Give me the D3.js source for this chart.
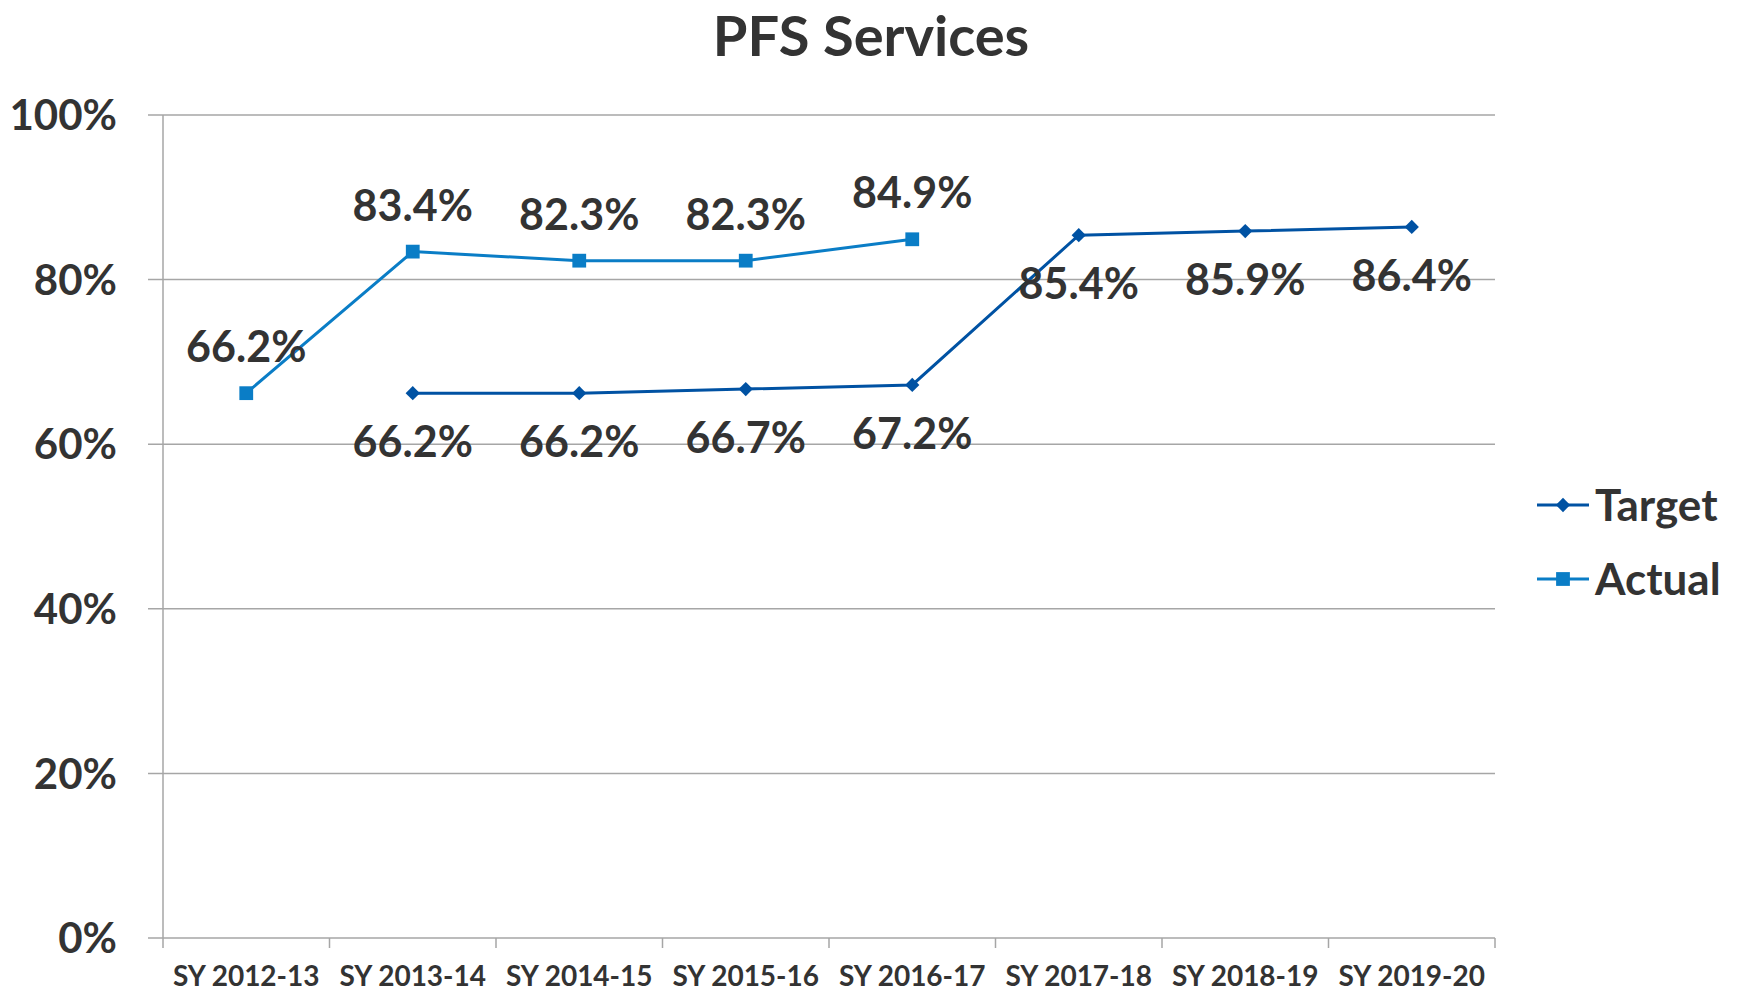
<!DOCTYPE html>
<html>
<head>
<meta charset="utf-8">
<script src="https://cdn.jsdelivr.net/npm/d3@7"></script>
<style>
  body { margin: 0; background: #fff; }
  svg { display: block; font-family: Lato, "Open Sans", sans-serif; font-weight: bold; }
</style>
</head>
<body>
<svg id="chart" width="1740" height="992"></svg>
<script>
// chart data
const categories = ["SY 2012-13", "SY 2013-14", "SY 2014-15", "SY 2015-16",
  "SY 2016-17", "SY 2017-18", "SY 2018-19", "SY 2019-20"];
const targetValues = [null, 66.2, 66.2, 66.7, 67.2, 85.4, 85.9, 86.4];
const actualValues = [66.2, 83.4, 82.3, 82.3, 84.9, null, null, null];
const yTicks = [0, 20, 40, 60, 80, 100];

const textColor = "#333";
const gridColor = "#a6a6a6";

const svg = d3.select("#chart");
const plot = { left: 163, right: 1495, top: 115, bottom: 938 };

const x = d3.scaleBand().domain(categories).range([plot.left, plot.right]).padding(0);
const y = d3.scaleLinear().domain([0, 100]).range([plot.bottom, plot.top]);
const cx = (c) => x(c) + x.bandwidth() / 2;

// title
svg.append("text")
  .attr("x", 871).attr("y", 56)
  .attr("text-anchor", "middle")
  .attr("font-size", 56)
  .attr("fill", textColor)
  .text("PFS Services");

// gridlines + y labels
const gy = svg.append("g");
gy.selectAll("line")
  .data(yTicks)
  .enter()
  .append("line")
  .attr("x1", plot.left - 15).attr("x2", plot.right)
  .attr("y1", (d) => y(d)).attr("y2", (d) => y(d))
  .attr("stroke", gridColor)
  .attr("stroke-width", 1.5);

gy.selectAll("text")
  .data(yTicks)
  .enter()
  .append("text")
  .attr("x", 117)
  .attr("y", (d) => y(d))
  .attr("dy", "0.36em")
  .attr("text-anchor", "end")
  .attr("font-size", 42)
  .attr("fill", textColor)
  .text((d) => d + "%");

// y axis line
svg.append("line")
  .attr("x1", plot.left).attr("x2", plot.left)
  .attr("y1", plot.top).attr("y2", plot.bottom + 10)
  .attr("stroke", gridColor)
  .attr("stroke-width", 1.5);

// x ticks at category boundaries
const bounds = categories.map((c) => x(c) + x.bandwidth());
svg.append("g")
  .selectAll("line")
  .data(bounds)
  .enter()
  .append("line")
  .attr("x1", (d) => d).attr("x2", (d) => d)
  .attr("y1", plot.bottom).attr("y2", plot.bottom + 10)
  .attr("stroke", gridColor)
  .attr("stroke-width", 1.5);

// x labels
svg.append("g")
  .selectAll("text")
  .data(categories)
  .enter()
  .append("text")
  .attr("x", (d) => cx(d))
  .attr("y", 986)
  .attr("text-anchor", "middle")
  .attr("font-size", 28)
  .attr("fill", textColor)
  .text((d) => d);

const series = [
  { name: "Target", values: targetValues, color: "#0052a3", marker: "diamond", labelDy: 64 },
  { name: "Actual", values: actualValues, color: "#0a7dc6", marker: "square", labelDy: -31 },
];

const line = d3.line()
  .defined((d) => d.v != null)
  .x((d) => cx(d.c))
  .y((d) => y(d.v));

const markerSymbol = (m) => m === "diamond"
  ? d3.symbol().type(d3.symbolDiamond2).size(130)
  : d3.symbol().type(d3.symbolSquare).size(190);

series.forEach((s) => {
  const pts = categories.map((c, i) => ({ c: c, v: s.values[i] }));
  const g = svg.append("g");

  g.append("path")
    .datum(pts)
    .attr("d", line)
    .attr("fill", "none")
    .attr("stroke", s.color)
    .attr("stroke-width", 3);

  const valid = pts.filter((d) => d.v != null);
  g.selectAll(".marker")
    .data(valid)
    .enter()
    .append("path")
    .attr("class", "marker")
    .attr("d", markerSymbol(s.marker))
    .attr("transform", (d) => `translate(${cx(d.c)},${y(d.v)})`)
    .attr("fill", s.color);

  g.selectAll(".label")
    .data(valid)
    .enter()
    .append("text")
    .attr("class", "label")
    .attr("x", (d) => cx(d.c))
    .attr("y", (d) => y(d.v) + s.labelDy)
    .attr("text-anchor", "middle")
    .attr("font-size", 43)
    .attr("fill", textColor)
    .text((d) => d.v.toFixed(1) + "%");
});

// legend
const legend = svg.append("g");
series.forEach((s, i) => {
  const ly = 505 + i * 74;
  legend.append("line")
    .attr("x1", 1537).attr("x2", 1589)
    .attr("y1", ly).attr("y2", ly)
    .attr("stroke", s.color)
    .attr("stroke-width", 3);
  legend.append("path")
    .attr("d", markerSymbol(s.marker))
    .attr("transform", `translate(1563,${ly})`)
    .attr("fill", s.color);
  legend.append("text")
    .attr("x", 1595).attr("y", ly)
    .attr("dy", "0.36em")
    .attr("font-size", 44)
    .attr("fill", textColor)
    .text(s.name);
});
</script>
</body>
</html>
